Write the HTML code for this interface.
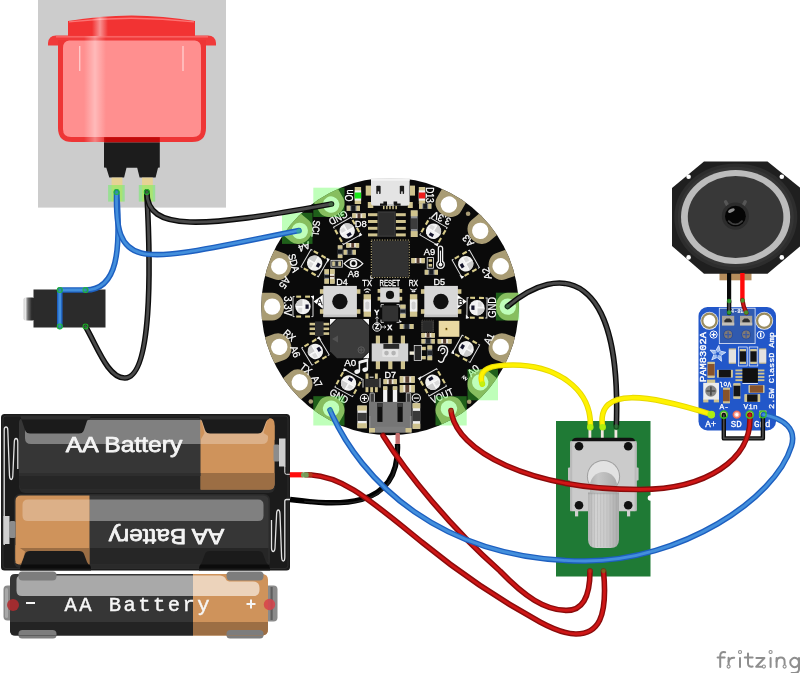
<!DOCTYPE html>
<html><head><meta charset="utf-8"><title>Fritzing diagram</title>
<style>
html,body{margin:0;padding:0;background:#ffffff;overflow:hidden}
svg{display:block;position:absolute;left:0;top:0}
</style></head><body>
<svg font-family="Liberation Sans, sans-serif" width="800" height="673" viewBox="0 0 800 673">
<rect x="0" y="0" width="800" height="673" fill="#ffffff"/>
<g opacity="0.999">
<defs>
<clipPath id="boardclip"><circle cx="390" cy="306.6" r="128.7"/></clipPath>
<linearGradient id="knobg" x1="0" x2="1" y1="0" y2="0">
<stop offset="0" stop-color="#b4b4b4"/><stop offset="0.25" stop-color="#d2d2d2"/><stop offset="0.6" stop-color="#cacaca"/><stop offset="1" stop-color="#ababab"/>
</linearGradient>
<linearGradient id="shaftg" x1="0" x2="1" y1="0" y2="0">
<stop offset="0" stop-color="#b2b2b2"/><stop offset="0.3" stop-color="#c6c6c6"/><stop offset="1" stop-color="#ababab"/>
</linearGradient>
<linearGradient id="jackg" x1="0" x2="1" y1="0" y2="0">
<stop offset="0" stop-color="#cfcfcf"/><stop offset="0.18" stop-color="#e8e8e8"/><stop offset="0.4" stop-color="#6e6e6e"/><stop offset="0.75" stop-color="#2b2b2b"/><stop offset="1" stop-color="#2b2b2b"/>
</linearGradient>
<linearGradient id="shine" x1="0" x2="1" y1="0" y2="0">
<stop offset="0" stop-color="#fff" stop-opacity="0"/><stop offset="0.5" stop-color="#fff" stop-opacity="0.55"/><stop offset="1" stop-color="#fff" stop-opacity="0"/>
</linearGradient>
<radialGradient id="capg" cx="0.4" cy="0.35" r="0.7">
<stop offset="0" stop-color="#2a2a2a"/><stop offset="1" stop-color="#000"/>
</radialGradient>
</defs>
<g id="button"><rect x="38" y="0" width="188" height="207.6" fill="#cccccc"/>
<path d="M68,36 L68,21 Q100,16 131.5,15.6 Q163,16 195,21 L195,36 Z" fill="#f23333"/>
<path d="M69,22.6 Q131,15.4 194,22.6 L194,21.2 Q131,14 69,21.2 Z" fill="#ff8a8a" opacity="0.75"/>
<path d="M48,45.6 L48,43 Q48.5,36 56,35.6 L208,35.6 Q215.5,36 216,43 L216,45.6 Z" fill="#f03a3a"/>
<rect x="56" y="36" width="152" height="1.6" fill="#ff7d7d" opacity="0.6"/>
<path d="M58,40 L206,40 L206,128 Q206,142 192,142 L72,142 Q58,142 58,128 Z" fill="#ee3535"/>
<path d="M69,40.5 L195,40.5 Q201,41 201,48 L201,129 Q201,137 193,137 L71,137 Q63,137 63,129 L63,48 Q63,41 69,40.5 Z" fill="#ff8f8f"/>
<rect x="104" y="137.2" width="55.8" height="5.4" fill="#c00b0b"/>
<rect x="79" y="46" width="1.4" height="25" fill="#ffd0d0" opacity="0.9"/>
<rect x="182.3" y="46" width="1.4" height="25" fill="#ffd0d0" opacity="0.9"/>
<rect x="92" y="17" width="16" height="19" fill="url(#shine)" opacity="0.85"/>
<rect x="84" y="36" width="22" height="106" fill="url(#shine)" opacity="0.7"/>
<path d="M104,142.5 L159.8,142.5 L159.8,167.4 L158,167.8 L155.6,177.6 L139.6,177.6 L137.2,167.8 L126.5,167.8 L124.1,177.6 L109.3,177.6 L106.3,167.8 L104,167.4 Z" fill="#1c1c1c"/>
<rect x="111.6" y="177.6" width="10.8" height="24" fill="#e6d294"/>
<rect x="142" y="177.6" width="10.8" height="24" fill="#e6d294"/>
<rect x="108.1" y="185" width="16.6" height="16.6" fill="#47ff39" opacity="0.38"/>
<rect x="138.8" y="185" width="16.4" height="16.6" fill="#47ff39" opacity="0.38"/></g>
<g id="jack"><rect x="23.5" y="297.5" width="11" height="23" rx="2" fill="url(#jackg)"/>
<rect x="33.5" y="289.5" width="72" height="38" fill="#2b2b2b"/></g>
<g id="batteries"><rect x="1" y="414" width="289" height="156.5" rx="3.5" fill="#1b1b1b"/>
<rect x="3" y="416" width="285" height="152.5" rx="3" fill="none" stroke="#2c2c2c" stroke-width="1"/>
<rect x="19" y="419" width="256" height="74" rx="6" fill="#2a2a2a"/>
<rect x="14" y="494" width="256" height="74" rx="6" fill="#2a2a2a"/>
<path d="M24,418 L200.5,418 L200.5,489.5 L24,489.5 Q19,489.5 19,484 L19,423 Q19,418 24,418 Z" fill="#363636"/>
<path d="M200.5,418 L269,418 Q274.5,418 274.5,424 L274.5,484 Q274.5,489.5 269,489.5 L200.5,489.5 Z" fill="#cf935b"/>
<path d="M19,473 L200.5,473 L200.5,489.5 L24,489.5 Q19,489.5 19,484 Z" fill="#262626"/>
<path d="M200.5,473 L274.5,473 L274.5,484 Q274.5,489.5 269,489.5 L200.5,489.5 Z" fill="#9c6e44"/>
<path d="M19,473 L200.5,473 L200.5,476 L19,476 Z" fill="#2e2e2e"/>
<path d="M28,420 L200.5,420 L200.5,444 L31,444 Q25,444 25,438 L25,423 Q25,420 28,420 Z" fill="#808080"/>
<path d="M200.5,420 L262,420 Q268,420 268,426 L268,438 Q268,444 262,444 L200.5,444 Z" fill="#dcb088"/>
<path d="M20,414 L91,414 L91,418 Q88,419 87,421 L84,430 Q83,433.5 79,433.5 L30,433.5 Q26,433.5 25,430 L22,421 Q21.5,419 20,418 Z" fill="#1b1b1b"/>
<path d="M20,415.5 L91,415.5 L89.5,419.5 L21.5,419.5 Z" fill="#2f2f2f"/>
<path d="M199,414 L270,414 L270,418 Q267,419 266,422 L263,430 Q262,433.5 258,433.5 L210,433.5 Q206,433.5 205,430 L202,421 Q201,419 199,418 Z" fill="#1b1b1b"/>
<path d="M199,415.5 L270,415.5 L268.5,419.5 L200.5,419.5 Z" fill="#2f2f2f"/>
<path d="M263.5,433 Q265,426 267,421.5 Q270,418.5 273,421 L274.5,426 L274.5,440 Z" fill="#cf935b"/>
<path d="M204.5,433 Q203,426 201.5,421 L200.5,421 L200.5,440 Z" fill="#cf935b"/>
<text x="65.8" y="451.8" font-size="22.4" fill="#f4f4f4" stroke="#f4f4f4" stroke-width="0.75" stroke-linejoin="round" textLength="116.6" lengthAdjust="spacingAndGlyphs" font-family="Liberation Sans, sans-serif">AA Battery</text>
<rect x="273.5" y="444.5" width="6" height="17" rx="1.5" fill="#8c8c8c"/>
<rect x="279" y="438.5" width="6.5" height="28" fill="#cfcfcf"/>
<path d="M284.8,466 L284.8,472.5 Q284.8,474.3 286.5,474.3 L290,474.3" fill="none" stroke="#e8e8e8" stroke-width="1"/>
<path d="M4.2,545 L4.2,430 Q4.2,427 6,427 Q7.8,427 7.8,430 L9.5,476 Q9.8,479.5 11.2,479.5 Q12.6,479.5 12.8,476 L14.3,442 Q14.5,438.5 16,438.5 Q17.8,438.5 17.8,442 L17.8,469" fill="none" stroke="#e2e2e2" stroke-width="1.3"/>
<path d="M89.5,495.5 L263,495.5 Q268.5,495.5 268.5,501 L268.5,559 Q268.5,564.5 263,564.5 L89.5,564.5 Z" fill="#363636"/>
<path d="M21,495.5 L89.5,495.5 L89.5,564.5 L21,564.5 Q15.5,564.5 15.5,559 L15.5,501 Q15.5,495.5 21,495.5 Z" fill="#cf935b"/>
<path d="M89.5,548 L268.5,548 L268.5,559 Q268.5,564.5 263,564.5 L89.5,564.5 Z" fill="#262626"/>
<path d="M15.5,548 L89.5,548 L89.5,564.5 L21,564.5 Q15.5,564.5 15.5,559 Z" fill="#9c6e44"/>
<path d="M89.5,499.5 L258,499.5 Q263.5,499.5 263.5,505 L263.5,515.5 Q263.5,521 258,521 L89.5,521 Z" fill="#808080"/>
<path d="M28,499.5 L89.5,499.5 L89.5,521 L28,521 Q22.5,521 22.5,515.5 L22.5,505 Q22.5,499.5 28,499.5 Z" fill="#dcb088"/>
<path d="M20,570.5 L91,570.5 L91,566 Q88,565 87,562 L84,554 Q83,551 79,551 L30,551 Q26,551 25,554 L22,562 Q21.5,565 20,566 Z" fill="#1b1b1b"/>
<path d="M199,570.5 L270,570.5 L270,566 Q267,565 266,562 L263,554 Q262,551 258,551 L210,551 Q206,551 205,554 L202,562 Q201,565 199,566 Z" fill="#1b1b1b"/>
<path d="M21.5,564.5 L89.5,564.5 L91,568.5 L20,568.5 Z" fill="#0c0c0c"/>
<path d="M200.5,564.5 L268.5,564.5 L270,568.5 L199,568.5 Z" fill="#0c0c0c"/>
<path d="M25,551.5 Q23.5,558 21.5,562.5 Q18.5,565.5 15.5,563 L15.5,545 Z" fill="#cf935b"/>
<g transform="rotate(180 166.5 536.5)"><text x="108.8" y="544" font-size="22.4" fill="#f4f4f4" stroke="#f4f4f4" stroke-width="0.75" stroke-linejoin="round" textLength="115.4" lengthAdjust="spacingAndGlyphs" font-family="Liberation Sans, sans-serif">AA Battery</text></g>
<rect x="9.5" y="521" width="6" height="17" rx="1.5" fill="#8c8c8c"/>
<rect x="3.5" y="516" width="6" height="28" fill="#cfcfcf"/>
<path d="M290,499.5 L286.5,499.5 Q284.8,499.5 284.8,501.5 L284.8,557 Q284.8,561 283.3,561 Q281.8,561 281.6,557 L280,514 Q279.8,510 278.3,510 Q276.8,510 276.6,514 L275,548 Q274.8,551.5 273.3,551.5 Q271.5,551.5 271.5,548 L271.5,520" fill="none" stroke="#e2e2e2" stroke-width="1.3"/>
<rect x="18.5" y="571.5" width="38" height="10" rx="3.5" fill="#7d7d7d"/>
<rect x="18.5" y="629" width="38" height="9.5" rx="3.5" fill="#7d7d7d"/>
<rect x="226.5" y="571.5" width="37" height="10" rx="3.5" fill="#7d7d7d"/>
<rect x="226.5" y="629" width="37" height="9.5" rx="3.5" fill="#7d7d7d"/>
<rect x="3.5" y="585.5" width="10" height="35" rx="4" fill="#8a8a8a"/>
<rect x="5" y="588" width="3" height="30" rx="1.5" fill="#a8a8a8"/>
<rect x="265" y="585.5" width="12.5" height="36" rx="4" fill="#8a8a8a"/>
<rect x="270.5" y="587" width="2.2" height="33" fill="#5e5e5e"/>
<path d="M15,574 L193,574 L193,635.5 L15,635.5 Q10,635.5 10,630 L10,579 Q10,574 15,574 Z" fill="#363636"/>
<path d="M193,574 L262,574 Q268,574 268,580 L268,629 Q268,635.5 262,635.5 L193,635.5 Z" fill="#cf935b"/>
<path d="M10,622 L193,622 L193,635.5 L15,635.5 Q10,635.5 10,630 Z" fill="#242424"/>
<path d="M193,622 L268,622 L268,629 Q268,635.5 262,635.5 L193,635.5 Z" fill="#9c6e44"/>
<path d="M21,575.5 L193,575.5 L193,596 L22,596 Q16.5,596 16.5,590.5 L16.5,580 Q16.5,575.5 21,575.5 Z" fill="#a9a9a9"/>
<path d="M193,575.5 L220,575.5 Q225,576 226,579.5 Q227,581.5 231,581.5 L253,581.5 Q259.5,581.5 259.5,588 L259.5,590 Q259.5,596 253,596 L193,596 Z" fill="#ecd3bb"/>
<path d="M18.5,574 L56.5,574 L56.5,576 Q56.5,580.5 52.5,580.5 L22.5,580.5 Q18.5,580.5 18.5,576 Z" fill="#7d7d7d"/>
<path d="M18.5,635.5 L56.5,635.5 L56.5,634 Q56.5,630 52.5,630 L22.5,630 Q18.5,630 18.5,634 Z" fill="#7d7d7d"/>
<path d="M226.5,574 L263.5,574 L263.5,576 Q263.5,580.5 259.5,580.5 L230.5,580.5 Q226.5,580.5 226.5,576 Z" fill="#7d7d7d"/>
<path d="M226.5,635.5 L263.5,635.5 L263.5,634 Q263.5,630 259.5,630 L230.5,630 Q226.5,630 226.5,634 Z" fill="#7d7d7d"/>
<circle cx="13" cy="605" r="6" fill="#b42a2e" opacity="0.85"/>
<circle cx="269.5" cy="604.5" r="5.7" fill="#d8424a" opacity="0.85"/>
<text x="64.5" y="610.5" font-size="20.5" fill="#f6f6f6" stroke="#f6f6f6" stroke-width="0.45" textLength="145" lengthAdjust="spacing" font-family="Liberation Mono, monospace">AA Battery</text>
<rect x="26" y="602" width="9" height="2" fill="#f6f6f6"/>
<rect x="246.5" y="603" width="9" height="2" fill="#f6f6f6"/>
<rect x="250" y="599.5" width="2" height="9" fill="#f6f6f6"/>
<rect x="289.8" y="472.2" width="13" height="5.2" fill="#ff0d0d"/></g>
<g id="board"><circle cx="390" cy="306.6" r="128.7" fill="#0a0a0a"/>
<g clip-path="url(#boardclip)">
<g transform="translate(390 306.6) rotate(-60)">
<path d="M117.8,-13.9 A11.9,13.9 0 0 0 117.8,13.9 L140,13.9 L140,-13.9 Z" fill="#a99c74"/>
<circle cx="117.8" cy="0" r="8.2" fill="#ffffff"/>
</g>
<g transform="translate(390 306.6) rotate(-40)">
<path d="M117.8,-13.9 A11.9,13.9 0 0 0 117.8,13.9 L140,13.9 L140,-13.9 Z" fill="#a99c74"/>
<circle cx="117.8" cy="0" r="8.2" fill="#ffffff"/>
</g>
<g transform="translate(390 306.6) rotate(-20)">
<path d="M117.8,-13.9 A11.9,13.9 0 0 0 117.8,13.9 L140,13.9 L140,-13.9 Z" fill="#a99c74"/>
<circle cx="117.8" cy="0" r="8.2" fill="#ffffff"/>
</g>
<g transform="translate(390 306.6) rotate(0)">
<path d="M117.8,-13.9 A11.9,13.9 0 0 0 117.8,13.9 L140,13.9 L140,-13.9 Z" fill="#a99c74"/>
<circle cx="117.8" cy="0" r="8.2" fill="#ffffff"/>
</g>
<g transform="translate(390 306.6) rotate(20)">
<path d="M117.8,-13.9 A11.9,13.9 0 0 0 117.8,13.9 L140,13.9 L140,-13.9 Z" fill="#a99c74"/>
<circle cx="117.8" cy="0" r="8.2" fill="#ffffff"/>
</g>
<g transform="translate(390 306.6) rotate(40)">
<path d="M117.8,-13.9 A11.9,13.9 0 0 0 117.8,13.9 L140,13.9 L140,-13.9 Z" fill="#a99c74"/>
<circle cx="117.8" cy="0" r="8.2" fill="#ffffff"/>
</g>
<g transform="translate(390 306.6) rotate(60)">
<path d="M117.8,-13.9 A11.9,13.9 0 0 0 117.8,13.9 L140,13.9 L140,-13.9 Z" fill="#a99c74"/>
<circle cx="117.8" cy="0" r="8.2" fill="#ffffff"/>
</g>
<g transform="translate(390 306.6) rotate(120)">
<path d="M117.8,-13.9 A11.9,13.9 0 0 0 117.8,13.9 L140,13.9 L140,-13.9 Z" fill="#a99c74"/>
<circle cx="117.8" cy="0" r="8.2" fill="#ffffff"/>
</g>
<g transform="translate(390 306.6) rotate(140)">
<path d="M117.8,-13.9 A11.9,13.9 0 0 0 117.8,13.9 L140,13.9 L140,-13.9 Z" fill="#a99c74"/>
<circle cx="117.8" cy="0" r="8.2" fill="#ffffff"/>
</g>
<g transform="translate(390 306.6) rotate(160)">
<path d="M117.8,-13.9 A11.9,13.9 0 0 0 117.8,13.9 L140,13.9 L140,-13.9 Z" fill="#a99c74"/>
<circle cx="117.8" cy="0" r="8.2" fill="#ffffff"/>
</g>
<g transform="translate(390 306.6) rotate(180)">
<path d="M117.8,-13.9 A11.9,13.9 0 0 0 117.8,13.9 L140,13.9 L140,-13.9 Z" fill="#a99c74"/>
<circle cx="117.8" cy="0" r="8.2" fill="#ffffff"/>
</g>
<g transform="translate(390 306.6) rotate(200)">
<path d="M117.8,-13.9 A11.9,13.9 0 0 0 117.8,13.9 L140,13.9 L140,-13.9 Z" fill="#a99c74"/>
<circle cx="117.8" cy="0" r="8.2" fill="#ffffff"/>
</g>
<g transform="translate(390 306.6) rotate(220)">
<path d="M117.8,-13.9 A11.9,13.9 0 0 0 117.8,13.9 L140,13.9 L140,-13.9 Z" fill="#a99c74"/>
<circle cx="117.8" cy="0" r="8.2" fill="#ffffff"/>
</g>
<g transform="translate(390 306.6) rotate(240)">
<path d="M117.8,-13.9 A11.9,13.9 0 0 0 117.8,13.9 L140,13.9 L140,-13.9 Z" fill="#a99c74"/>
<circle cx="117.8" cy="0" r="8.2" fill="#ffffff"/>
</g>
</g>
<circle cx="310.8" cy="401.5" r="2.3" fill="#a99c74"/>
<circle cx="469.2" cy="401.7" r="2.3" fill="#a99c74"/>
<circle cx="468.1" cy="213.8" r="2.3" fill="#a99c74"/>
<g transform="translate(390 306.6) rotate(-119.5) translate(87 0)"><rect x="-7" y="-11" width="4.9" height="2.1" fill="#d8cc8a"/><rect x="1.9" y="-11" width="4.9" height="2.1" fill="#d8cc8a"/><rect x="-7" y="8.9" width="4.9" height="2.1" fill="#d8cc8a"/><rect x="1.9" y="8.9" width="4.9" height="2.1" fill="#d8cc8a"/><path d="M8.4,-10 L10,-10 L10,10 L8.4,10" fill="none" stroke="#dedede" stroke-width="1"/><path d="M-8.4,-10 L-10,-10 L-10,10 L-8.4,10" fill="none" stroke="#dedede" stroke-width="1"/><path d="M-11,6.8 L-7.6,10.4 L-11,11.2 Z" fill="#f6f6f6"/><circle cx="0" cy="0" r="7.7" fill="#f1f1f1"/><path d="M0,0 L0,7.7 A7.7,7.7 0 0 0 7.7,0 Z" fill="#cdcdcd"/><path d="M0.6,-1.2 L0.6,-5.6 L4.6,-5.6 L4.6,-1.2 Z" fill="#dadada"/><path d="M-7,0 L7,0 M0,-7 L0,7" stroke="#fafafa" stroke-width="1.1"/><rect x="-5.7" y="-2.2" width="3.2" height="4.3" fill="#15152c"/></g>
<g transform="translate(390 306.6) rotate(-150) translate(87 0)"><rect x="-7" y="-11" width="4.9" height="2.1" fill="#d8cc8a"/><rect x="1.9" y="-11" width="4.9" height="2.1" fill="#d8cc8a"/><rect x="-7" y="8.9" width="4.9" height="2.1" fill="#d8cc8a"/><rect x="1.9" y="8.9" width="4.9" height="2.1" fill="#d8cc8a"/><path d="M8.4,-10 L10,-10 L10,10 L8.4,10" fill="none" stroke="#dedede" stroke-width="1"/><path d="M-8.4,-10 L-10,-10 L-10,10 L-8.4,10" fill="none" stroke="#dedede" stroke-width="1"/><path d="M-11,6.8 L-7.6,10.4 L-11,11.2 Z" fill="#f6f6f6"/><circle cx="0" cy="0" r="7.7" fill="#f1f1f1"/><path d="M0,0 L0,7.7 A7.7,7.7 0 0 0 7.7,0 Z" fill="#cdcdcd"/><path d="M0.6,-1.2 L0.6,-5.6 L4.6,-5.6 L4.6,-1.2 Z" fill="#dadada"/><path d="M-7,0 L7,0 M0,-7 L0,7" stroke="#fafafa" stroke-width="1.1"/><rect x="-5.7" y="-2.2" width="3.2" height="4.3" fill="#15152c"/></g>
<g transform="translate(390 306.6) rotate(180) translate(87 0)"><rect x="-7" y="-11" width="4.9" height="2.1" fill="#d8cc8a"/><rect x="1.9" y="-11" width="4.9" height="2.1" fill="#d8cc8a"/><rect x="-7" y="8.9" width="4.9" height="2.1" fill="#d8cc8a"/><rect x="1.9" y="8.9" width="4.9" height="2.1" fill="#d8cc8a"/><path d="M8.4,-10 L10,-10 L10,10 L8.4,10" fill="none" stroke="#dedede" stroke-width="1"/><path d="M-8.4,-10 L-10,-10 L-10,10 L-8.4,10" fill="none" stroke="#dedede" stroke-width="1"/><path d="M-11,6.8 L-7.6,10.4 L-11,11.2 Z" fill="#f6f6f6"/><circle cx="0" cy="0" r="7.7" fill="#f1f1f1"/><path d="M0,0 L0,7.7 A7.7,7.7 0 0 0 7.7,0 Z" fill="#cdcdcd"/><path d="M0.6,-1.2 L0.6,-5.6 L4.6,-5.6 L4.6,-1.2 Z" fill="#dadada"/><path d="M-7,0 L7,0 M0,-7 L0,7" stroke="#fafafa" stroke-width="1.1"/><rect x="-5.7" y="-2.2" width="3.2" height="4.3" fill="#15152c"/></g>
<g transform="translate(390 306.6) rotate(149) translate(87 0)"><rect x="-7" y="-11" width="4.9" height="2.1" fill="#d8cc8a"/><rect x="1.9" y="-11" width="4.9" height="2.1" fill="#d8cc8a"/><rect x="-7" y="8.9" width="4.9" height="2.1" fill="#d8cc8a"/><rect x="1.9" y="8.9" width="4.9" height="2.1" fill="#d8cc8a"/><path d="M8.4,-10 L10,-10 L10,10 L8.4,10" fill="none" stroke="#dedede" stroke-width="1"/><path d="M-8.4,-10 L-10,-10 L-10,10 L-8.4,10" fill="none" stroke="#dedede" stroke-width="1"/><path d="M-11,6.8 L-7.6,10.4 L-11,11.2 Z" fill="#f6f6f6"/><circle cx="0" cy="0" r="7.7" fill="#f1f1f1"/><path d="M0,0 L0,7.7 A7.7,7.7 0 0 0 7.7,0 Z" fill="#cdcdcd"/><path d="M0.6,-1.2 L0.6,-5.6 L4.6,-5.6 L4.6,-1.2 Z" fill="#dadada"/><path d="M-7,0 L7,0 M0,-7 L0,7" stroke="#fafafa" stroke-width="1.1"/><rect x="-5.7" y="-2.2" width="3.2" height="4.3" fill="#15152c"/></g>
<g transform="translate(390 306.6) rotate(118.5) translate(87 0)"><rect x="-7" y="-11" width="4.9" height="2.1" fill="#d8cc8a"/><rect x="1.9" y="-11" width="4.9" height="2.1" fill="#d8cc8a"/><rect x="-7" y="8.9" width="4.9" height="2.1" fill="#d8cc8a"/><rect x="1.9" y="8.9" width="4.9" height="2.1" fill="#d8cc8a"/><path d="M8.4,-10 L10,-10 L10,10 L8.4,10" fill="none" stroke="#dedede" stroke-width="1"/><path d="M-8.4,-10 L-10,-10 L-10,10 L-8.4,10" fill="none" stroke="#dedede" stroke-width="1"/><path d="M-11,6.8 L-7.6,10.4 L-11,11.2 Z" fill="#f6f6f6"/><circle cx="0" cy="0" r="7.7" fill="#f1f1f1"/><path d="M0,0 L0,7.7 A7.7,7.7 0 0 0 7.7,0 Z" fill="#cdcdcd"/><path d="M0.6,-1.2 L0.6,-5.6 L4.6,-5.6 L4.6,-1.2 Z" fill="#dadada"/><path d="M-7,0 L7,0 M0,-7 L0,7" stroke="#fafafa" stroke-width="1.1"/><rect x="-5.7" y="-2.2" width="3.2" height="4.3" fill="#15152c"/></g>
<g transform="translate(390 306.6) rotate(60.5) translate(87 0)"><rect x="-7" y="-11" width="4.9" height="2.1" fill="#d8cc8a"/><rect x="1.9" y="-11" width="4.9" height="2.1" fill="#d8cc8a"/><rect x="-7" y="8.9" width="4.9" height="2.1" fill="#d8cc8a"/><rect x="1.9" y="8.9" width="4.9" height="2.1" fill="#d8cc8a"/><path d="M8.4,-10 L10,-10 L10,10 L8.4,10" fill="none" stroke="#dedede" stroke-width="1"/><path d="M-8.4,-10 L-10,-10 L-10,10 L-8.4,10" fill="none" stroke="#dedede" stroke-width="1"/><path d="M-11,6.8 L-7.6,10.4 L-11,11.2 Z" fill="#f6f6f6"/><circle cx="0" cy="0" r="7.7" fill="#f1f1f1"/><path d="M0,0 L0,7.7 A7.7,7.7 0 0 0 7.7,0 Z" fill="#cdcdcd"/><path d="M0.6,-1.2 L0.6,-5.6 L4.6,-5.6 L4.6,-1.2 Z" fill="#dadada"/><path d="M-7,0 L7,0 M0,-7 L0,7" stroke="#fafafa" stroke-width="1.1"/><rect x="-5.7" y="-2.2" width="3.2" height="4.3" fill="#15152c"/></g>
<g transform="translate(390 306.6) rotate(29) translate(87 0)"><rect x="-7" y="-11" width="4.9" height="2.1" fill="#d8cc8a"/><rect x="1.9" y="-11" width="4.9" height="2.1" fill="#d8cc8a"/><rect x="-7" y="8.9" width="4.9" height="2.1" fill="#d8cc8a"/><rect x="1.9" y="8.9" width="4.9" height="2.1" fill="#d8cc8a"/><path d="M8.4,-10 L10,-10 L10,10 L8.4,10" fill="none" stroke="#dedede" stroke-width="1"/><path d="M-8.4,-10 L-10,-10 L-10,10 L-8.4,10" fill="none" stroke="#dedede" stroke-width="1"/><path d="M-11,6.8 L-7.6,10.4 L-11,11.2 Z" fill="#f6f6f6"/><circle cx="0" cy="0" r="7.7" fill="#f1f1f1"/><path d="M0,0 L0,7.7 A7.7,7.7 0 0 0 7.7,0 Z" fill="#cdcdcd"/><path d="M0.6,-1.2 L0.6,-5.6 L4.6,-5.6 L4.6,-1.2 Z" fill="#dadada"/><path d="M-7,0 L7,0 M0,-7 L0,7" stroke="#fafafa" stroke-width="1.1"/><rect x="-5.7" y="-2.2" width="3.2" height="4.3" fill="#15152c"/></g>
<g transform="translate(390 306.6) rotate(0.8) translate(87 0)"><rect x="-7" y="-11" width="4.9" height="2.1" fill="#d8cc8a"/><rect x="1.9" y="-11" width="4.9" height="2.1" fill="#d8cc8a"/><rect x="-7" y="8.9" width="4.9" height="2.1" fill="#d8cc8a"/><rect x="1.9" y="8.9" width="4.9" height="2.1" fill="#d8cc8a"/><path d="M8.4,-10 L10,-10 L10,10 L8.4,10" fill="none" stroke="#dedede" stroke-width="1"/><path d="M-8.4,-10 L-10,-10 L-10,10 L-8.4,10" fill="none" stroke="#dedede" stroke-width="1"/><path d="M-11,6.8 L-7.6,10.4 L-11,11.2 Z" fill="#f6f6f6"/><circle cx="0" cy="0" r="7.7" fill="#f1f1f1"/><path d="M0,0 L0,7.7 A7.7,7.7 0 0 0 7.7,0 Z" fill="#cdcdcd"/><path d="M0.6,-1.2 L0.6,-5.6 L4.6,-5.6 L4.6,-1.2 Z" fill="#dadada"/><path d="M-7,0 L7,0 M0,-7 L0,7" stroke="#fafafa" stroke-width="1.1"/><rect x="-5.7" y="-2.2" width="3.2" height="4.3" fill="#15152c"/></g>
<g transform="translate(390 306.6) rotate(-29.5) translate(87 0)"><rect x="-7" y="-11" width="4.9" height="2.1" fill="#d8cc8a"/><rect x="1.9" y="-11" width="4.9" height="2.1" fill="#d8cc8a"/><rect x="-7" y="8.9" width="4.9" height="2.1" fill="#d8cc8a"/><rect x="1.9" y="8.9" width="4.9" height="2.1" fill="#d8cc8a"/><path d="M8.4,-10 L10,-10 L10,10 L8.4,10" fill="none" stroke="#dedede" stroke-width="1"/><path d="M-8.4,-10 L-10,-10 L-10,10 L-8.4,10" fill="none" stroke="#dedede" stroke-width="1"/><path d="M-11,6.8 L-7.6,10.4 L-11,11.2 Z" fill="#f6f6f6"/><circle cx="0" cy="0" r="7.7" fill="#f1f1f1"/><path d="M0,0 L0,7.7 A7.7,7.7 0 0 0 7.7,0 Z" fill="#cdcdcd"/><path d="M0.6,-1.2 L0.6,-5.6 L4.6,-5.6 L4.6,-1.2 Z" fill="#dadada"/><path d="M-7,0 L7,0 M0,-7 L0,7" stroke="#fafafa" stroke-width="1.1"/><rect x="-5.7" y="-2.2" width="3.2" height="4.3" fill="#15152c"/></g>
<g transform="translate(390 306.6) rotate(-60) translate(87 0)"><rect x="-7" y="-11" width="4.9" height="2.1" fill="#d8cc8a"/><rect x="1.9" y="-11" width="4.9" height="2.1" fill="#d8cc8a"/><rect x="-7" y="8.9" width="4.9" height="2.1" fill="#d8cc8a"/><rect x="1.9" y="8.9" width="4.9" height="2.1" fill="#d8cc8a"/><path d="M8.4,-10 L10,-10 L10,10 L8.4,10" fill="none" stroke="#dedede" stroke-width="1"/><path d="M-8.4,-10 L-10,-10 L-10,10 L-8.4,10" fill="none" stroke="#dedede" stroke-width="1"/><path d="M-11,6.8 L-7.6,10.4 L-11,11.2 Z" fill="#f6f6f6"/><circle cx="0" cy="0" r="7.7" fill="#f1f1f1"/><path d="M0,0 L0,7.7 A7.7,7.7 0 0 0 7.7,0 Z" fill="#cdcdcd"/><path d="M0.6,-1.2 L0.6,-5.6 L4.6,-5.6 L4.6,-1.2 Z" fill="#dadada"/><path d="M-7,0 L7,0 M0,-7 L0,7" stroke="#fafafa" stroke-width="1.1"/><rect x="-5.7" y="-2.2" width="3.2" height="4.3" fill="#15152c"/></g></g>
<g id="boardparts"><rect x="365.7" y="185.6" width="5.5" height="10" fill="#cfc38e"/>
<rect x="410" y="185.6" width="5" height="10" fill="#cfc38e"/>
<rect x="367.8" y="202" width="5.5" height="6" fill="#cfc38e"/>
<rect x="407.8" y="202" width="5" height="6" fill="#cfc38e"/>
<rect x="383" y="204" width="1.5" height="5.2" fill="#cfc38e"/>
<rect x="386.1" y="204" width="1.5" height="5.2" fill="#cfc38e"/>
<rect x="389.2" y="204" width="1.5" height="5.2" fill="#cfc38e"/>
<rect x="392.3" y="204" width="1.5" height="5.2" fill="#cfc38e"/>
<rect x="395.4" y="204" width="1.5" height="5.2" fill="#cfc38e"/>
<path d="M371,178.2 L409.6,178.2 L409.6,203 Q409.6,205.8 406.6,205.8 L374,205.8 Q371,205.8 371,203 Z" fill="#e4e4e4"/>
<rect x="371" y="178.2" width="38.6" height="2.6" fill="#f2f2f2"/>
<rect x="376.3" y="185.8" width="4.3" height="8.2" rx="0.8" fill="#1a1a1a"/>
<rect x="377.7" y="191.4" width="1.5" height="2.6" fill="#e4e4e4"/>
<rect x="399.8" y="185.8" width="4.3" height="8.2" rx="0.8" fill="#1a1a1a"/>
<rect x="401.2" y="191.4" width="1.5" height="2.6" fill="#e4e4e4"/>
<path d="M380,205.8 L380,203.6 L383.4,203.6 L383.4,201.4 L387,201.4 L387,203.6 L387,205.8 Z" fill="#141414"/>
<path d="M400.6,205.8 L400.6,203.6 L397.2,203.6 L397.2,201.4 L393.6,201.4 L393.6,203.6 L393.6,205.8 Z" fill="#141414"/>
<rect x="387" y="204.2" width="6.6" height="1.6" fill="#b9b9b9"/>
<rect x="354.7" y="187" width="6.4" height="17" fill="#cfc38e"/>
<rect x="354.7" y="190.4" width="6.4" height="10.2" fill="#f0f0f0"/>
<rect x="354.7" y="192.5" width="6.4" height="6" fill="#19e619"/>
<rect x="418.8" y="187" width="6.4" height="17" fill="#cfc38e"/>
<rect x="418.8" y="190.4" width="6.4" height="10.2" fill="#f0f0f0"/>
<rect x="418.8" y="192.5" width="6.4" height="6" fill="#ee1c1c"/>
<text transform="translate(349.4 195.5) rotate(-90)" text-anchor="middle" font-size="10.4" fill="#ffffff" stroke="#ffffff" stroke-width="0.28" font-weight="normal" textLength="12" lengthAdjust="spacingAndGlyphs" dy="3.6">On</text>
<text transform="translate(429.8 194.9) rotate(90)" text-anchor="middle" font-size="10" fill="#ffffff" stroke="#ffffff" stroke-width="0.28" font-weight="normal" textLength="15.5" lengthAdjust="spacingAndGlyphs" dy="3.5">D13</text>
<rect x="346.7" y="205.7" width="13.3" height="5.2" fill="#8c8f94"/><rect x="346.7" y="205.7" width="3.458" height="5.2" fill="#cfc38e"/><rect x="356.542" y="205.7" width="3.458" height="5.2" fill="#cfc38e"/><rect x="351.195" y="205.7" width="4.3092" height="5.2" fill="#15181d"/>
<rect x="352.3" y="213.3" width="13.4" height="4.8" fill="#ece8dc"/><rect x="352.3" y="213.3" width="3.484" height="4.8" fill="#cfc38e"/><rect x="362.216" y="213.3" width="3.484" height="4.8" fill="#cfc38e"/><rect x="357.526" y="213.3" width="2.948" height="4.8" fill="#5a4034"/>
<rect x="419" y="203.6" width="12.4" height="5.2" fill="#8c8f94"/><rect x="419" y="203.6" width="3.224" height="5.2" fill="#cfc38e"/><rect x="428.176" y="203.6" width="3.224" height="5.2" fill="#cfc38e"/><rect x="423.191" y="203.6" width="4.0176" height="5.2" fill="#15181d"/>
<rect x="368" y="213.2" width="9.8" height="3" fill="#cfc38e"/>
<rect x="395.6" y="213.2" width="10.2" height="3" fill="#cfc38e"/>
<rect x="368" y="220" width="9.8" height="3" fill="#cfc38e"/>
<rect x="395.6" y="220" width="10.2" height="3" fill="#cfc38e"/>
<rect x="368" y="226.8" width="9.8" height="3" fill="#cfc38e"/>
<rect x="395.6" y="226.8" width="10.2" height="3" fill="#cfc38e"/>
<rect x="368" y="233.4" width="9.8" height="3" fill="#cfc38e"/>
<rect x="395.6" y="233.4" width="10.2" height="3" fill="#cfc38e"/>
<rect x="377.5" y="211.2" width="18.3" height="25.8" fill="#2d2d2d"/>
<rect x="378.6" y="212.3" width="16.1" height="23.6" fill="none" stroke="#3b3b3b" stroke-width="0.8"/>
<rect x="410.8" y="210.4" width="6.8" height="26.6" fill="#8c8f94"/><rect x="410.8" y="210.4" width="6.8" height="5.852" fill="#cfc38e"/><rect x="410.8" y="231.148" width="6.8" height="5.852" fill="#cfc38e"/><rect x="410.8" y="218.327" width="6.8" height="10.7464" fill="#3c3c3c"/>
<rect x="371.4" y="240.2" width="37.8" height="37.2" fill="none" stroke="#b5a878" stroke-width="1.3" stroke-dasharray="1.1 1.5"/>
<rect x="372" y="240.8" width="36.6" height="36" fill="#323232"/>
<path d="M370.6,275.6 L370.6,278.4 L373.4,278.4" fill="none" stroke="#f2f2f2" stroke-width="0.8"/>
<text transform="translate(429.4 254.8) rotate(0)" text-anchor="middle" font-size="9.6" fill="#ffffff" stroke="#ffffff" stroke-width="0.28" font-weight="normal" textLength="11.5" lengthAdjust="spacingAndGlyphs" >A9</text>
<path d="M438.4,261.4 L438.4,248.2 A2.1,2.1 0 0 1 442.6,248.2 L442.6,261.4 A3.8,3.8 0 1 1 438.4,261.4 Z" fill="none" stroke="#f2f2f2" stroke-width="1.3"/>
<path d="M440.5,250.6 L440.5,264" stroke="#f2f2f2" stroke-width="1.1"/>
<circle cx="440.5" cy="264.6" r="1.9" fill="#f2f2f2"/>
<rect x="427.2" y="257.6" width="6.3" height="10.6" fill="none" stroke="#f2f2f2" stroke-width="0.8"/>
<rect x="428.6" y="259.2" width="3.5" height="2.6" fill="#cfc38e"/><rect x="428.6" y="264" width="3.5" height="2.6" fill="#cfc38e"/>
<rect x="411.4" y="258" width="13.3" height="5.2" fill="#ece8dc"/><rect x="411.4" y="258" width="3.458" height="5.2" fill="#cfc38e"/><rect x="421.242" y="258" width="3.458" height="5.2" fill="#cfc38e"/><rect x="416.587" y="258" width="2.926" height="5.2" fill="#5a4034"/>
<rect x="424.7" y="269.8" width="13.3" height="4.9" fill="#8c8f94"/><rect x="424.7" y="269.8" width="3.458" height="4.9" fill="#cfc38e"/><rect x="434.542" y="269.8" width="3.458" height="4.9" fill="#cfc38e"/><rect x="429.195" y="269.8" width="4.3092" height="4.9" fill="#15181d"/>
<path d="M344.2,263.6 Q353.4,253.6 362.8,263.6 Q353.4,273.6 344.2,263.6 Z" fill="none" stroke="#f2f2f2" stroke-width="1.3"/>
<circle cx="353.5" cy="263.4" r="3" fill="none" stroke="#f2f2f2" stroke-width="1.7"/>
<text transform="translate(353.5 276.7) rotate(0)" text-anchor="middle" font-size="9.6" fill="#ffffff" stroke="#ffffff" stroke-width="0.28" font-weight="normal" textLength="11.5" lengthAdjust="spacingAndGlyphs" >A8</text>
<rect x="331" y="260.3" width="11.3" height="6.8" fill="none" stroke="#f2f2f2" stroke-width="0.8"/>
<rect x="332.3" y="261.5" width="8.7" height="4.4" fill="#8c8f94"/><rect x="332.3" y="261.5" width="2.436" height="4.4" fill="#cfc38e"/><rect x="338.564" y="261.5" width="2.436" height="4.4" fill="#cfc38e"/><rect x="335.415" y="261.5" width="2.4708" height="4.4" fill="#22262c"/>
<rect x="346.3" y="243" width="12.8" height="4.6" fill="#ece8dc"/><rect x="346.3" y="243" width="3.328" height="4.6" fill="#cfc38e"/><rect x="355.772" y="243" width="3.328" height="4.6" fill="#cfc38e"/><rect x="351.292" y="243" width="2.816" height="4.6" fill="#5a4034"/>
<rect x="337.8" y="245.3" width="4.6" height="12.8" fill="#8c8f94"/><rect x="337.8" y="245.3" width="4.6" height="3.328" fill="#cfc38e"/><rect x="337.8" y="254.772" width="4.6" height="3.328" fill="#cfc38e"/><rect x="337.8" y="249.626" width="4.6" height="4.1472" fill="#15181d"/>
<rect x="343.6" y="249.8" width="12.3" height="4.9" fill="#8c8f94"/><rect x="343.6" y="249.8" width="3.198" height="4.9" fill="#cfc38e"/><rect x="352.702" y="249.8" width="3.198" height="4.9" fill="#cfc38e"/><rect x="347.757" y="249.8" width="3.9852" height="4.9" fill="#22262c"/>
<rect x="324.4" y="269.2" width="4.6" height="14.5" fill="#8c8f94"/><rect x="324.4" y="269.2" width="4.6" height="4.785" fill="#cfc38e"/><rect x="324.4" y="278.915" width="4.6" height="4.785" fill="#cfc38e"/><rect x="324.4" y="275.116" width="4.6" height="2.668" fill="#15181d"/>
<rect x="330" y="269.2" width="4.6" height="14.5" fill="#ece8dc"/><rect x="330" y="269.2" width="4.6" height="4.785" fill="#cfc38e"/><rect x="330" y="278.915" width="4.6" height="4.785" fill="#cfc38e"/><rect x="330" y="275.87" width="4.6" height="1.16" fill="#5a4034"/>
<text transform="translate(360.8 226.9) rotate(0)" text-anchor="middle" font-size="9.3" fill="#ffffff" stroke="#ffffff" stroke-width="0.28" font-weight="normal" textLength="12" lengthAdjust="spacingAndGlyphs" >D8</text>
<rect x="319.9" y="289.2" width="40.5" height="4.6" fill="#cfc38e"/>
<rect x="319.9" y="309.2" width="40.5" height="4.6" fill="#cfc38e"/>
<rect x="323.3" y="285.9" width="33.6" height="31.2" fill="#d7d7d7"/>
<rect x="323.3" y="314.6" width="33.6" height="2.5" fill="#c4c4c4"/>
<circle cx="339.9" cy="301.5" r="7.7" fill="#111111"/>
<text transform="translate(342 285.2) rotate(0)" text-anchor="middle" font-size="9.3" fill="#ffffff" stroke="#ffffff" stroke-width="0.28" font-weight="normal" textLength="11.5" lengthAdjust="spacingAndGlyphs" >D4</text>
<rect x="420.9" y="289.2" width="40.5" height="4.6" fill="#cfc38e"/>
<rect x="420.9" y="309.2" width="40.5" height="4.6" fill="#cfc38e"/>
<rect x="424.3" y="285.9" width="33.6" height="31.2" fill="#d7d7d7"/>
<rect x="424.3" y="314.6" width="33.6" height="2.5" fill="#c4c4c4"/>
<circle cx="440.9" cy="301.5" r="7.7" fill="#111111"/>
<text transform="translate(439.2 285.2) rotate(0)" text-anchor="middle" font-size="9.3" fill="#ffffff" stroke="#ffffff" stroke-width="0.28" font-weight="normal" textLength="11.5" lengthAdjust="spacingAndGlyphs" >D5</text>
<path d="M322.9,294.7 L322.9,308.8 L313.6,301.6 Z" fill="#ffffff"/>
<text transform="translate(319.6 304.8) rotate(0)" text-anchor="middle" font-size="8.6" fill="#111" stroke="#111" stroke-width="0.28" font-weight="normal" >A</text>
<path d="M457.4,294.7 L457.4,308.8 L466.7,301.6 Z" fill="#ffffff"/>
<text transform="translate(460.6 305) rotate(0)" text-anchor="middle" font-size="8.6" fill="#111" stroke="#111" stroke-width="0.28" font-weight="normal" >B</text>
<rect x="363.6" y="294.2" width="7.4" height="22.6" fill="#cfc38e"/>
<rect x="363.6" y="299.4" width="7.4" height="12.2" fill="#f0f0f0"/>
<rect x="365.3" y="301.4" width="4" height="8.2" rx="1.8" fill="#d0d0d0"/>
<text transform="translate(367.1 286) rotate(0)" text-anchor="middle" font-size="8.2" fill="#ffffff" stroke="#ffffff" stroke-width="0.28" font-weight="normal" textLength="9.5" lengthAdjust="spacingAndGlyphs" >TX</text>
<rect x="409.9" y="294.2" width="7.4" height="22.6" fill="#cfc38e"/>
<rect x="409.9" y="299.4" width="7.4" height="12.2" fill="#f0f0f0"/>
<rect x="411.6" y="301.4" width="4" height="8.2" rx="1.8" fill="#d0d0d0"/>
<text transform="translate(413.4 286) rotate(0)" text-anchor="middle" font-size="8.2" fill="#ffffff" stroke="#ffffff" stroke-width="0.28" font-weight="normal" textLength="9.5" lengthAdjust="spacingAndGlyphs" >RX</text>
<path d="M363.9,290.4 Q367.2,287.4 370.5,290.4 M365.4,292.4 Q367.2,290.8 369,292.4" fill="none" stroke="#f2f2f2" stroke-width="1.1"/>
<path d="M410.2,288.6 Q413.5,291.6 416.8,288.6 M411.7,291 Q413.5,292.6 415.3,291" fill="none" stroke="#f2f2f2" stroke-width="1.1"/>
<text transform="translate(389.7 286) rotate(0)" text-anchor="middle" font-size="8.2" fill="#ffffff" stroke="#ffffff" stroke-width="0.28" font-weight="normal" textLength="20.5" lengthAdjust="spacingAndGlyphs" >RESET</text>
<rect x="377.6" y="289" width="24.6" height="3.8" fill="#cfc38e"/>
<rect x="377.6" y="296.8" width="24.6" height="3.8" fill="#cfc38e"/>
<rect x="380.2" y="287.4" width="19.4" height="15" fill="#d7d7d7"/>
<circle cx="390" cy="294.9" r="4.1" fill="#111111"/>
<rect x="382.2" y="305.6" width="16" height="15.8" fill="#323232"/>
<path d="M381,307.4 L381,304.6 L383.8,304.6 M396.6,304.6 L399.4,304.6 L399.4,307.4 M399.4,319.6 L399.4,322.4 L396.6,322.4 M383.8,322.4 L381,322.4 L381,319.6" fill="none" stroke="#f2f2f2" stroke-width="0.8"/>
<circle cx="400.6" cy="321.6" r="0.9" fill="#f2f2f2"/>
<rect x="400.2" y="304.6" width="5.4" height="13.2" fill="#8c8f94"/><rect x="400.2" y="304.6" width="5.4" height="3.96" fill="#cfc38e"/><rect x="400.2" y="313.84" width="5.4" height="3.96" fill="#cfc38e"/><rect x="400.2" y="309.59" width="5.4" height="3.2208" fill="#22262c"/>
<circle cx="377" cy="327" r="4.2" fill="none" stroke="#f2f2f2" stroke-width="1"/>
<text transform="translate(377 329.4) rotate(0)" text-anchor="middle" font-size="6.6" fill="#ffffff" stroke="#ffffff" stroke-width="0.28" font-weight="bold" >Z</text>
<path d="M377,322.8 L377,317 M375.5,318.6 L377,316.6 L378.5,318.6 M381.2,327 L385.6,327 M384.2,325.6 L386,327 L384.2,328.4" fill="none" stroke="#f2f2f2" stroke-width="0.8"/>
<text transform="translate(376.9 315) rotate(0)" text-anchor="middle" font-size="7.6" fill="#ffffff" stroke="#ffffff" stroke-width="0.28" font-weight="bold" >Y</text>
<text transform="translate(389.9 329.8) rotate(0)" text-anchor="middle" font-size="7.6" fill="#ffffff" stroke="#ffffff" stroke-width="0.28" font-weight="bold" >X</text>
<rect x="399.8" y="324" width="13.8" height="5" fill="#8c8f94"/><rect x="399.8" y="324" width="3.588" height="5" fill="#cfc38e"/><rect x="410.012" y="324" width="3.588" height="5" fill="#cfc38e"/><rect x="404.464" y="324" width="4.4712" height="5" fill="#22262c"/>
<path d="M363,319 L369,319 L369,325 Z M363,358.2 L369,358.2 L369,352.2 Z M336,319 L330,319 L330,325 Z" fill="#f4f4f4"/>
<path d="M337,319 L362,319 L369,326 L369,351.2 L362,358.2 L337,358.2 L330,351.2 L330,326 Z" fill="#3b3b3b"/>
<path d="M332,339 L338,335.6 L338,342.4 Z" fill="#525252"/>
<circle cx="361.2" cy="350" r="3.2" fill="none" stroke="#5e5e5e" stroke-width="1"/><path d="M358.8,350 L363.6,350 M361.2,347.6 L361.2,352.4" stroke="#5e5e5e" stroke-width="0.9"/>
<rect x="309.6" y="322.8" width="19.6" height="2.6" fill="#cfc38e"/>
<rect x="309.6" y="327.5" width="19.6" height="2.6" fill="#cfc38e"/>
<rect x="309.6" y="332.3" width="19.6" height="2.6" fill="#cfc38e"/>
<rect x="315" y="321.4" width="8.6" height="14.6" fill="#2f2f2f"/>
<rect x="375.8" y="335.6" width="4.2" height="33.6" fill="#cfc38e"/>
<rect x="388.2" y="335.6" width="4.2" height="33.6" fill="#cfc38e"/>
<rect x="400.8" y="335.6" width="4.2" height="33.6" fill="#cfc38e"/>
<rect x="371.7" y="343.4" width="36.5" height="18" fill="#d2d2d2"/>
<rect x="383.4" y="344" width="15.8" height="4.8" fill="#2a2a2a"/>
<rect x="382.2" y="349.2" width="16" height="7.8" rx="1.5" fill="#e4e4e4"/>
<circle cx="386.5" cy="353.1" r="2.3" fill="#b4b4b4"/><circle cx="393.6" cy="353.1" r="2.3" fill="#b4b4b4"/>
<text transform="translate(350.2 365.6) rotate(0)" text-anchor="middle" font-size="9.6" fill="#ffffff" stroke="#ffffff" stroke-width="0.28" font-weight="normal" textLength="12" lengthAdjust="spacingAndGlyphs" >A0</text>
<path d="M359.4,371 L359.4,361.6 L367.4,359.4 L367.4,369" fill="none" stroke="#f2f2f2" stroke-width="1.5"/>
<path d="M358.7,364 L368.1,361.4 L368.1,358.8 L358.7,361.4 Z" fill="#f2f2f2"/>
<ellipse cx="357.2" cy="371.6" rx="2.9" ry="2.2" transform="rotate(-15 357.2 371.6)" fill="#f2f2f2"/><ellipse cx="365.2" cy="369.6" rx="2.9" ry="2.2" transform="rotate(-15 365.2 369.6)" fill="#f2f2f2"/>
<rect x="421" y="346.8" width="4.8" height="3.4" fill="#cfc38e"/><rect x="421" y="356" width="4.8" height="3.4" fill="#cfc38e"/>
<rect x="409.6" y="351.4" width="5" height="3.4" fill="#f0ecd8"/>
<rect x="414.2" y="345.6" width="7.2" height="15" fill="#262626" stroke="#f2f2f2" stroke-width="0.7"/>
<rect x="427.4" y="345.4" width="4.8" height="14.8" fill="#8c8f94"/><rect x="427.4" y="345.4" width="4.8" height="3.996" fill="#cfc38e"/><rect x="427.4" y="356.204" width="4.8" height="3.996" fill="#cfc38e"/><rect x="427.4" y="350.55" width="4.8" height="4.4992" fill="#22262c"/>
<rect x="421.2" y="320.8" width="12.8" height="11" fill="#2f2f2f"/>
<rect x="422" y="320.2" width="11.2" height="12.2" fill="none" stroke="#56514a" stroke-width="0.8" stroke-dasharray="1.1 1.1"/>
<rect x="423.2" y="322.4" width="8.8" height="7.8" fill="#2a2a2a"/>
<rect x="421.4" y="333" width="13.4" height="4.6" fill="#ece8dc"/><rect x="421.4" y="333" width="3.484" height="4.6" fill="#cfc38e"/><rect x="431.316" y="333" width="3.484" height="4.6" fill="#cfc38e"/><rect x="426.626" y="333" width="2.948" height="4.6" fill="#5a4034"/>
<rect x="421.4" y="339" width="13.4" height="4.6" fill="#8c8f94"/><rect x="421.4" y="339" width="3.484" height="4.6" fill="#cfc38e"/><rect x="431.316" y="339" width="3.484" height="4.6" fill="#cfc38e"/><rect x="425.929" y="339" width="4.3416" height="4.6" fill="#22262c"/>
<rect x="438.7" y="320.8" width="20.7" height="16" fill="#ead9a2"/>
<circle cx="446.4" cy="328.9" r="1.5" fill="#d0b35a"/><circle cx="446.4" cy="328.9" r="0.8" fill="#3a2a10"/>
<rect x="437.7" y="339" width="13.8" height="4.6" fill="#ece8dc"/><rect x="437.7" y="339" width="3.588" height="4.6" fill="#cfc38e"/><rect x="447.912" y="339" width="3.588" height="4.6" fill="#cfc38e"/><rect x="443.082" y="339" width="3.036" height="4.6" fill="#5a4034"/>
<path d="M438.4,351 Q438,346 442.6,345.8 Q447.8,346 447.6,351.4 Q447.4,354.4 445.2,356.4 Q443.8,358 443.6,360 Q443.2,362.4 440.6,362.2 Q438.6,362 438.4,360" fill="none" stroke="#f2f2f2" stroke-width="1.45"/>
<path d="M440.6,351.4 Q440.8,348.4 443,348.4 Q445.2,348.6 445,351 Q444.8,352.8 443.2,353.4 Q442.4,353.8 441.4,353.2" fill="none" stroke="#f2f2f2" stroke-width="1.15"/>
<text transform="translate(390.2 378.2) rotate(0)" text-anchor="middle" font-size="9.3" fill="#ffffff" stroke="#ffffff" stroke-width="0.28" font-weight="normal" textLength="11.5" lengthAdjust="spacingAndGlyphs" >D7</text>
<rect x="383.5" y="379.2" width="13.4" height="4.9" fill="#ece8dc"/><rect x="383.5" y="379.2" width="3.484" height="4.9" fill="#cfc38e"/><rect x="393.416" y="379.2" width="3.484" height="4.9" fill="#cfc38e"/><rect x="388.726" y="379.2" width="2.948" height="4.9" fill="#5a4034"/>
<rect x="365.5" y="373.5" width="2.9" height="5.6" fill="#cfc38e"/>
<rect x="374.9" y="373.5" width="2.9" height="5.6" fill="#cfc38e"/>
<rect x="365.5" y="386.6" width="2.9" height="5.6" fill="#cfc38e"/>
<rect x="370.2" y="386.6" width="2.9" height="5.6" fill="#cfc38e"/>
<rect x="374.9" y="386.6" width="2.9" height="5.6" fill="#cfc38e"/>
<rect x="365" y="378.8" width="14" height="8.4" fill="#2e2e2e"/>
<path d="M369.6,377.2 L373.6,377.2" stroke="#f2f2f2" stroke-width="1"/>
<path d="M363,379 L363,387.6 M380,378 L380,387.6" stroke="#f2f2f2" stroke-width="0.9"/>
<rect x="399.8" y="376.2" width="14.9" height="6.6" fill="#ece8dc"/><rect x="399.8" y="376.2" width="3.576" height="6.6" fill="#cfc38e"/><rect x="411.124" y="376.2" width="3.576" height="6.6" fill="#cfc38e"/><rect x="405.313" y="376.2" width="3.874" height="6.6" fill="#5a4034"/>
<rect x="399.8" y="385" width="14.9" height="7.4" fill="#ece8dc"/><rect x="399.8" y="385" width="3.576" height="7.4" fill="#cfc38e"/><rect x="411.124" y="385" width="3.576" height="7.4" fill="#cfc38e"/><rect x="405.313" y="385" width="3.874" height="7.4" fill="#5a4034"/>
<rect x="383.1" y="386.4" width="4.2" height="16" fill="#f2f2f2"/><rect x="392.8" y="386.4" width="4.4" height="16" fill="#f2f2f2"/>
<rect x="383.1" y="386.4" width="4.2" height="3.6" fill="#cfc38e"/><rect x="392.8" y="386.4" width="4.4" height="3.6" fill="#cfc38e"/>
<rect x="370" y="393" width="4.4" height="9.4" rx="0.8" fill="#3c3c3c" stroke="#e8e8e8" stroke-width="0.7"/><rect x="406.3" y="393" width="4.4" height="9.4" rx="0.8" fill="#3c3c3c" stroke="#e8e8e8" stroke-width="0.7"/>
<rect x="369" y="401.9" width="42.5" height="30.6" fill="#767676"/>
<rect x="369" y="416" width="1.6" height="16.5" fill="#8a8a8a"/><rect x="409.9" y="416" width="1.6" height="16.5" fill="#8a8a8a"/>
<rect x="377.3" y="403.1" width="5.2" height="18.8" fill="#101010"/><rect x="397.5" y="403.1" width="5.2" height="18.8" fill="#101010"/>
<rect x="377.3" y="403.1" width="5.2" height="3.8" fill="#3e3e3e"/><rect x="397.5" y="403.1" width="5.2" height="3.8" fill="#3e3e3e"/>
<rect x="375.2" y="426.6" width="30.2" height="5.9" fill="#7e7e7e"/>
<rect x="369" y="428" width="6" height="4.5" fill="#cfc38e"/><rect x="405.5" y="428" width="6" height="4.5" fill="#cfc38e"/>
<circle cx="364.4" cy="398.4" r="4.1" fill="none" stroke="#f2f2f2" stroke-width="1.05"/><path d="M361.8,398.4 L367,398.4 M364.4,395.8 L364.4,401" stroke="#f2f2f2" stroke-width="1.3"/>
<circle cx="416.3" cy="398.1" r="4.1" fill="none" stroke="#f2f2f2" stroke-width="1.05"/><path d="M413.7,398.1 L418.9,398.1" stroke="#f2f2f2" stroke-width="1.3"/>
<rect x="357.4" y="405.6" width="9.4" height="22.6" fill="#efefef"/><rect x="357.4" y="405.6" width="9.4" height="4.972" fill="#cfc38e"/><rect x="357.4" y="423.228" width="9.4" height="4.972" fill="#cfc38e"/><rect x="357.4" y="412.832" width="9.4" height="8.136" fill="#3a3a3a"/>
<rect x="412.6" y="403.2" width="7.6" height="25.6" fill="#efefef"/><rect x="412.6" y="403.2" width="7.6" height="5.12" fill="#cfc38e"/><rect x="412.6" y="423.68" width="7.6" height="5.12" fill="#cfc38e"/><rect x="412.6" y="410.88" width="7.6" height="10.24" fill="#3a3a3a"/>
<text transform="translate(338.2 217.7) rotate(152)" text-anchor="middle" font-size="10.2" fill="#ffffff" stroke="#ffffff" stroke-width="0.28" font-weight="normal" textLength="19.6" lengthAdjust="spacingAndGlyphs" dy="3.5">GND</text>
<text transform="translate(315.8 228.8) rotate(97)" text-anchor="middle" font-size="10.2" fill="#ffffff" stroke="#ffffff" stroke-width="0.28" font-weight="normal" textLength="16.8" lengthAdjust="spacingAndGlyphs" dy="3.5">SCL</text>
<text transform="translate(304.1 246.8) rotate(160)" text-anchor="middle" font-size="10.2" fill="#ffffff" stroke="#ffffff" stroke-width="0.28" font-weight="normal" textLength="11.8" lengthAdjust="spacingAndGlyphs" dy="3.5">A4</text>
<text transform="translate(293.8 262.9) rotate(75)" text-anchor="middle" font-size="10.2" fill="#ffffff" stroke="#ffffff" stroke-width="0.28" font-weight="normal" textLength="19" lengthAdjust="spacingAndGlyphs" dy="3.5">SDA</text>
<text transform="translate(284.7 282.7) rotate(125)" text-anchor="middle" font-size="10.2" fill="#ffffff" stroke="#ffffff" stroke-width="0.28" font-weight="normal" textLength="11.8" lengthAdjust="spacingAndGlyphs" dy="3.5">A5</text>
<text transform="translate(287.4 306.1) rotate(90)" text-anchor="middle" font-size="10.2" fill="#ffffff" stroke="#ffffff" stroke-width="0.28" font-weight="normal" textLength="19.6" lengthAdjust="spacingAndGlyphs" dy="3.5">3.3V</text>
<text transform="translate(289.4 335.5) rotate(40)" text-anchor="middle" font-size="10.2" fill="#ffffff" stroke="#ffffff" stroke-width="0.28" font-weight="normal" textLength="12.3" lengthAdjust="spacingAndGlyphs" dy="3.5">RX</text>
<text transform="translate(295.4 351.6) rotate(70)" text-anchor="middle" font-size="10.2" fill="#ffffff" stroke="#ffffff" stroke-width="0.28" font-weight="normal" textLength="11.8" lengthAdjust="spacingAndGlyphs" dy="3.5">A6</text>
<text transform="translate(306.1 368.8) rotate(38)" text-anchor="middle" font-size="10.2" fill="#ffffff" stroke="#ffffff" stroke-width="0.28" font-weight="normal" textLength="11.8" lengthAdjust="spacingAndGlyphs" dy="3.5">TX</text>
<text transform="translate(316.8 381.5) rotate(62)" text-anchor="middle" font-size="10.2" fill="#ffffff" stroke="#ffffff" stroke-width="0.28" font-weight="normal" textLength="11.8" lengthAdjust="spacingAndGlyphs" dy="3.5">A7</text>
<text transform="translate(338.9 396.2) rotate(29)" text-anchor="middle" font-size="10.2" fill="#ffffff" stroke="#ffffff" stroke-width="0.28" font-weight="normal" textLength="19.6" lengthAdjust="spacingAndGlyphs" dy="3.5">GND</text>
<text transform="translate(442 396.1) rotate(-24)" text-anchor="middle" font-size="10.2" fill="#ffffff" stroke="#ffffff" stroke-width="0.28" font-weight="normal" textLength="23.5" lengthAdjust="spacingAndGlyphs" dy="3.5">VOUT</text>
<text transform="translate(473.3 370.6) rotate(-42)" text-anchor="middle" font-size="10.2" fill="#ffffff" stroke="#ffffff" stroke-width="0.28" font-weight="normal" textLength="11.8" lengthAdjust="spacingAndGlyphs" dy="3.5">A0</text>
<path d="M461.6,377.8 L464.2,375.6 L463.4,379 L466,376.8 L465.2,380.4 L467.6,378.4" fill="none" stroke="#f2f2f2" stroke-width="1"/>
<text transform="translate(488.8 338.8) rotate(-63)" text-anchor="middle" font-size="10.2" fill="#ffffff" stroke="#ffffff" stroke-width="0.28" font-weight="normal" textLength="11.2" lengthAdjust="spacingAndGlyphs" dy="3.5">A1</text>
<text transform="translate(492.9 307.4) rotate(-90)" text-anchor="middle" font-size="10.2" fill="#ffffff" stroke="#ffffff" stroke-width="0.28" font-weight="normal" textLength="20.7" lengthAdjust="spacingAndGlyphs" dy="3.5">GND</text>
<text transform="translate(486.8 273.6) rotate(-107)" text-anchor="middle" font-size="10.2" fill="#ffffff" stroke="#ffffff" stroke-width="0.28" font-weight="normal" textLength="11.8" lengthAdjust="spacingAndGlyphs" dy="3.5">A2</text>
<text transform="translate(468.1 240.8) rotate(-131)" text-anchor="middle" font-size="10.2" fill="#ffffff" stroke="#ffffff" stroke-width="0.28" font-weight="normal" textLength="11.8" lengthAdjust="spacingAndGlyphs" dy="3.5">A3</text>
<text transform="translate(441.4 218.1) rotate(-156)" text-anchor="middle" font-size="10.2" fill="#ffffff" stroke="#ffffff" stroke-width="0.28" font-weight="normal" textLength="19.6" lengthAdjust="spacingAndGlyphs" dy="3.5">3.3V</text></g>
<g id="padov"><rect x="313.3" y="187.7" width="31.2" height="29.3" fill="#47ff39" opacity="0.35"/>
<rect x="282.0" y="212.8" width="30.5" height="31.1" fill="#47ff39" opacity="0.35"/>
<rect x="495.9" y="292.7" width="23.4" height="27.8" fill="#47ff39" opacity="0.35"/>
<rect x="467.5" y="369.2" width="30.5" height="31.1" fill="#47ff39" opacity="0.35"/>
<rect x="435.5" y="396.2" width="31.2" height="29.3" fill="#47ff39" opacity="0.35"/>
<rect x="313.3" y="396.2" width="31.2" height="29.3" fill="#47ff39" opacity="0.35"/></g>
<g id="pot"><rect x="556" y="421" width="94.5" height="155.5" fill="#1f7a35"/>
<circle cx="650.5" cy="498" r="2.8" fill="#ffffff"/>
<rect x="588.5" y="427" width="2.8" height="11" fill="#f1e6e0"/>
<rect x="600.9" y="427" width="2.8" height="11" fill="#f1e6e0"/>
<rect x="614.5" y="427" width="2.8" height="11" fill="#f1e6e0"/>
<rect x="568" y="467.5" width="70.6" height="13" rx="1" fill="#c2c2c2"/>
<rect x="575" y="510" width="3.2" height="6.4" fill="#d0d0d0"/><rect x="627" y="510" width="3.2" height="6.4" fill="#d0d0d0"/>
<path d="M577,437.8 L630,437.8 Q635.5,437.8 635.5,443 L635.5,445 L571.5,445 L571.5,443 Q571.5,437.8 577,437.8 Z" fill="#111111"/>
<rect x="570.2" y="441.2" width="66.4" height="70" rx="2" fill="#cbcbcb"/>
<rect x="570.2" y="441.2" width="2" height="70" fill="#bababa"/><rect x="634.6" y="441.2" width="2" height="70" fill="#bababa"/>
<circle cx="579" cy="446.2" r="4.3" fill="#111111"/>
<circle cx="628.2" cy="446.2" r="4.3" fill="#111111"/>
<circle cx="579" cy="505.2" r="4.3" fill="#111111"/>
<circle cx="628.2" cy="505.2" r="4.3" fill="#111111"/>
<circle cx="603.5" cy="476.5" r="16.6" fill="#9f9f9f"/>
<circle cx="603.5" cy="476.5" r="15.6" fill="#e2e2e2"/>
<path d="M590,497 L590,485.5 A13.5,13.5 0 0 1 617,485.5 L617,497 Z" fill="url(#shaftg)"/>
<path d="M588,492.5 L619,492.5 L619,539.5 Q619,548 610.5,548 L596.5,548 Q588,548 588,539.5 Z" fill="url(#knobg)"/>
<rect x="591.1" y="493" width="0.7" height="54" fill="#8e8e8e" opacity="0.3"/>
<rect x="594.2" y="493" width="0.7" height="54" fill="#8e8e8e" opacity="0.3"/>
<rect x="597.3" y="493" width="0.7" height="54" fill="#8e8e8e" opacity="0.3"/>
<rect x="600.4" y="493" width="0.7" height="54" fill="#8e8e8e" opacity="0.3"/>
<rect x="603.5" y="493" width="0.7" height="54" fill="#8e8e8e" opacity="0.3"/>
<rect x="606.6" y="493" width="0.7" height="54" fill="#8e8e8e" opacity="0.3"/>
<rect x="609.7" y="493" width="0.7" height="54" fill="#8e8e8e" opacity="0.3"/>
<rect x="612.8" y="493" width="0.7" height="54" fill="#8e8e8e" opacity="0.3"/>
<rect x="615.9" y="493" width="0.7" height="54" fill="#8e8e8e" opacity="0.3"/>
<path d="M588,492.5 L619,492.5 L619,494.2 L588,494.2 Z" fill="#9a9a9a" opacity="0.5"/></g>
<g id="speaker"><rect x="719.5" y="270" width="32" height="10.3" fill="#b68d5c"/>
<path d="M704,161.4 L767.5,161.4 L800.5,188 L800.5,246 L767.5,273.8 L704,273.8 L672,246 L672,188 Z" fill="#1f1f1f"/>
<ellipse cx="735.8" cy="217" rx="61.5" ry="53.5" fill="#2d2d2d"/>
<ellipse cx="735.8" cy="217" rx="58" ry="50.3" fill="#353535"/>
<ellipse cx="735.6" cy="217" rx="54.6" ry="47" fill="#bcbcbc"/>
<ellipse cx="735.6" cy="217" rx="47.8" ry="41" fill="#383838"/>
<path d="M725.6,201.8 L729.4,209 M745.2,201.8 L741.4,209" stroke="#565656" stroke-width="3.4" stroke-linecap="round"/>
<circle cx="735.4" cy="216.2" r="13.6" fill="#2c2c2c"/>
<circle cx="735.4" cy="216.2" r="10.4" fill="#050505"/>
<path d="M728.2,220.6 Q735.4,228 742.6,220.6" fill="none" stroke="#3e3e3e" stroke-width="1.6"/>
<ellipse cx="731.4" cy="210.6" rx="3.6" ry="1.7" transform="rotate(-28 731.4 210.6)" fill="#8c8c8c"/>
<circle cx="688.6" cy="176.8" r="2.3" fill="#ffffff"/>
<circle cx="781.8" cy="176.8" r="2.3" fill="#ffffff"/>
<circle cx="688.6" cy="257.4" r="2.3" fill="#ffffff"/>
<circle cx="781.8" cy="257.4" r="2.3" fill="#ffffff"/></g>
<g id="amp"><rect x="698.5" y="307" width="77.5" height="123.5" rx="9" fill="#2257c9"/>
<circle cx="709.4" cy="320.8" r="9" fill="#e6ecfa"/><circle cx="709.4" cy="320.8" r="8.2" fill="#9a8c5e"/><circle cx="709.4" cy="320.8" r="6" fill="#ffffff"/>
<circle cx="764.2" cy="320.8" r="9" fill="#e6ecfa"/><circle cx="764.2" cy="320.8" r="8.2" fill="#9a8c5e"/><circle cx="764.2" cy="320.8" r="6" fill="#ffffff"/>
<rect x="719.3" y="308.2" width="35.8" height="35.4" fill="#305aaf" stroke="#e8eefc" stroke-width="0.8"/>
<rect x="722" y="315.8" width="12.2" height="9.6" fill="#a8a39a"/>
<path d="M724.4,322.6 L724.4,320.4 L726.4,318.6 L729.8,318.6 L731.8,320.4 L731.8,322.6 Z" fill="#2e2e2e"/>
<rect x="722" y="322.6" width="12.2" height="2.8" fill="#c4c0b8"/>
<circle cx="728.1" cy="334.6" r="4.9" fill="#2a4a94"/>
<circle cx="728.1" cy="334.6" r="4" fill="#807a74"/>
<path d="M724.9,334.6 L731.3,334.6 M728.1,331.4 L728.1,337.8" stroke="#3a5aa4" stroke-width="1.3"/>
<rect x="740" y="315.8" width="12.2" height="9.6" fill="#a8a39a"/>
<path d="M742.4,322.6 L742.4,320.4 L744.4,318.6 L747.8,318.6 L749.8,320.4 L749.8,322.6 Z" fill="#2e2e2e"/>
<rect x="740" y="322.6" width="12.2" height="2.8" fill="#c4c0b8"/>
<circle cx="746.1" cy="334.6" r="4.9" fill="#2a4a94"/>
<circle cx="746.1" cy="334.6" r="4" fill="#807a74"/>
<path d="M742.9,334.6 L749.3,334.6 M746.1,331.4 L746.1,337.8" stroke="#3a5aa4" stroke-width="1.3"/>
<circle cx="713.6" cy="334.6" r="3.6" fill="none" stroke="#fff" stroke-width="1"/><path d="M711.4,334.6 L715.8,334.6 M713.6,332.4 L713.6,336.8" stroke="#fff" stroke-width="1.3"/>
<circle cx="760.7" cy="334.9" r="3.6" fill="none" stroke="#fff" stroke-width="1"/><path d="M760.7,332.5 L760.7,337.3" stroke="#fff" stroke-width="1.4"/>
<text x="737.3" y="313.2" font-size="5.5" fill="#fff" text-anchor="middle" font-weight="bold" font-family="Liberation Mono, monospace">4-8Ω</text>
<text transform="translate(705.7 357) rotate(-90)" text-anchor="middle" font-size="9.6" fill="#fff" stroke="#fff" stroke-width="0.4" textLength="50" lengthAdjust="spacingAndGlyphs" font-family="Liberation Mono, monospace">PAM8302A</text>
<text transform="translate(774.2 370.5) rotate(-90)" text-anchor="middle" font-size="7.8" fill="#fff" stroke="#fff" stroke-width="0.3" textLength="77" lengthAdjust="spacingAndGlyphs" font-family="Liberation Mono, monospace">2.5W ClassD Amp</text>
<g transform="translate(717.6 353.8)"><polygon points="1.17,-8.32 2.57,-2.66 8.27,-1.46 3.33,1.62 3.94,7.42 -0.51,3.66 -5.84,6.04 -3.64,0.64 -7.55,-3.68 -1.74,-3.27" fill="#9fbdf0" stroke="#dbe7fb" stroke-width="0.9" stroke-linejoin="round"/><circle r="1.5" fill="#2257c9"/>
<path d="M0,0 L2.57,-2.66" stroke="#2257c9" stroke-width="0.7"/>
<path d="M0,0 L3.33,1.62" stroke="#2257c9" stroke-width="0.7"/>
<path d="M0,0 L-0.51,3.66" stroke="#2257c9" stroke-width="0.7"/>
<path d="M0,0 L-3.64,0.64" stroke="#2257c9" stroke-width="0.7"/>
<path d="M0,0 L-1.74,-3.27" stroke="#2257c9" stroke-width="0.7"/>
</g>
<rect x="728.8" y="348.4" width="7.2" height="15.4" fill="#c8b98c"/><rect x="759.2" y="348.4" width="7" height="15.4" fill="#c8b98c"/><rect x="728.8" y="349.6" width="7.2" height="13" fill="#e4e2e0"/><rect x="759.2" y="349.6" width="7" height="13" fill="#e4e2e0"/>
<rect x="738.6" y="347" width="8.6" height="19" fill="none" stroke="#fff" stroke-width="0.7"/>
<rect x="739.8" y="349.2" width="6.2" height="14.6" fill="#ece8dc"/><rect x="739.8" y="349.2" width="6.2" height="2.044" fill="#cfc38e"/><rect x="739.8" y="361.756" width="6.2" height="2.044" fill="#cfc38e"/><rect x="739.8" y="351.244" width="6.2" height="10.512" fill="#141414"/>
<rect x="749.2" y="347" width="8.6" height="19" fill="none" stroke="#fff" stroke-width="0.7"/>
<rect x="750.4" y="349.2" width="6.2" height="14.6" fill="#ece8dc"/><rect x="750.4" y="349.2" width="6.2" height="2.044" fill="#cfc38e"/><rect x="750.4" y="361.756" width="6.2" height="2.044" fill="#cfc38e"/><rect x="750.4" y="351.244" width="6.2" height="10.512" fill="#141414"/>
<rect x="707.6" y="361.9" width="7" height="15.8" fill="#ece8dc"/><rect x="707.6" y="361.9" width="7" height="2.054" fill="#cfc38e"/><rect x="707.6" y="375.646" width="7" height="2.054" fill="#cfc38e"/><rect x="707.6" y="363.954" width="7" height="11.692" fill="#87532b"/>
<rect x="717.1" y="369.9" width="15.5" height="7.5" fill="#ece8dc"/><rect x="717.1" y="369.9" width="1.705" height="7.5" fill="#cfc38e"/><rect x="730.895" y="369.9" width="1.705" height="7.5" fill="#cfc38e"/><rect x="718.805" y="369.9" width="12.09" height="7.5" fill="#141414"/>
<rect x="735.4" y="369.5" width="29" height="1.8" fill="#cfc38e"/>
<rect x="735.4" y="372.7" width="29" height="1.8" fill="#cfc38e"/>
<rect x="735.4" y="376.1" width="29" height="1.8" fill="#cfc38e"/>
<rect x="735.4" y="379.3" width="29" height="1.8" fill="#cfc38e"/>
<rect x="742.4" y="383" width="15.5" height="0.9" fill="#e8eefc"/>
<rect x="742.4" y="368.2" width="15.5" height="14.6" fill="#101010"/>
<text transform="translate(725.4 382) rotate(180)" text-anchor="middle" font-size="7.6" fill="#fff" stroke="#fff" stroke-width="0.3" textLength="11.6" lengthAdjust="spacingAndGlyphs" font-family="Liberation Mono, monospace">Vol</text>
<rect x="707" y="379.6" width="8.2" height="4" fill="#cfc38e"/>
<rect x="703.2" y="398.6" width="5.2" height="3.8" fill="#cfc38e"/><rect x="713.8" y="398.6" width="5.2" height="3.8" fill="#cfc38e"/>
<rect x="703.2" y="382.8" width="15.8" height="16.8" fill="#ececec"/>
<circle cx="710.9" cy="391" r="5.7" fill="#858585"/><path d="M706.4,391 L715.4,391 M710.9,386.5 L710.9,395.5" stroke="#4a4a4a" stroke-width="1.7"/>
<rect x="723" y="387.8" width="6.8" height="15.4" fill="#ece8dc"/><rect x="723" y="387.8" width="6.8" height="1.848" fill="#cfc38e"/><rect x="723" y="401.352" width="6.8" height="1.848" fill="#cfc38e"/><rect x="723" y="389.648" width="6.8" height="11.704" fill="#87532b"/>
<rect x="733.5" y="383.4" width="6.8" height="15.2" fill="#ece8dc"/><rect x="733.5" y="383.4" width="6.8" height="2.28" fill="#cfc38e"/><rect x="733.5" y="396.32" width="6.8" height="2.28" fill="#cfc38e"/><rect x="733.5" y="385.68" width="6.8" height="10.64" fill="#141414"/>
<rect x="748.7" y="385.3" width="15.6" height="7.4" fill="#ece8dc"/><rect x="748.7" y="385.3" width="1.248" height="7.4" fill="#cfc38e"/><rect x="763.052" y="385.3" width="1.248" height="7.4" fill="#cfc38e"/><rect x="749.948" y="385.3" width="13.104" height="7.4" fill="#87532b"/>
<rect x="744.6" y="394.4" width="15.5" height="7.4" fill="#ece8dc"/><rect x="744.6" y="394.4" width="2.48" height="7.4" fill="#cfc38e"/><rect x="757.62" y="394.4" width="2.48" height="7.4" fill="#cfc38e"/><rect x="747.08" y="394.4" width="10.54" height="7.4" fill="#141414"/>
<circle cx="711.3" cy="414.6" r="3.6" fill="#c9bd8e"/>
<circle cx="711.3" cy="414.6" r="1.6" fill="#ffffff"/>
<text x="710.7" y="427.2" font-size="9.2" fill="#fff" stroke="#fff" stroke-width="0.3" text-anchor="middle" font-family="Liberation Mono, monospace">A+</text>
<circle cx="723.8" cy="414.6" r="3.6" fill="#c9bd8e"/>
<circle cx="723.8" cy="414.6" r="1.6" fill="#ffffff"/>
<text x="724.2" y="408.8" font-size="7.8" fill="#fff" stroke="#fff" stroke-width="0.25" text-anchor="middle" font-family="Liberation Mono, monospace">A-</text>
<circle cx="736.8" cy="414.6" r="4.2" fill="#ee6a55"/><circle cx="736.8" cy="414.6" r="2.8" fill="#f6b0a8"/>
<circle cx="736.8" cy="414.6" r="1.6" fill="#ffffff"/>
<text x="736.2" y="427.2" font-size="9.2" fill="#fff" stroke="#fff" stroke-width="0.3" text-anchor="middle" font-family="Liberation Mono, monospace">SD</text>
<circle cx="749.8" cy="414.6" r="3.6" fill="#c9bd8e"/>
<circle cx="749.8" cy="414.6" r="1.6" fill="#ffffff"/>
<text x="750.6" y="408.8" font-size="7.8" fill="#fff" stroke="#fff" stroke-width="0.25" text-anchor="middle" font-family="Liberation Mono, monospace">Vin</text>
<rect x="759.1" y="410.5" width="7.4" height="7.4" fill="#c9bd8e"/>
<circle cx="762.8" cy="414.6" r="1.6" fill="#ffffff"/>
<text x="762.2" y="427.2" font-size="9.2" fill="#fff" stroke="#fff" stroke-width="0.3" text-anchor="middle" font-family="Liberation Mono, monospace">Gnd</text></g>
<g id="logo"><g fill="none" stroke="#8e8e8e" stroke-width="2" stroke-linecap="round" stroke-linejoin="round">
<path d="M725.2,652.2 Q720.2,651.2 720.2,656 L720.2,667"/><path d="M717.6,657.6 L724.6,657.6"/>
<path d="M728.6,657.8 L728.6,664.6"/><path d="M728.6,661.5 Q729.4,657.6 734.2,657.8"/>
<path d="M740,658 L740,667"/>
<path d="M748,653.4 L748,663.6 Q748,667 752.6,666.6"/><path d="M744.8,657.6 L752.6,657.6"/>
<path d="M756.4,658 L764.4,658 L756.2,666.8 L761.6,666.8"/>
<path d="M770.6,658 L770.6,667"/>
<path d="M776.6,658 L776.6,667"/><path d="M776.6,661.4 Q777.2,657.6 780.8,657.6 Q784.6,657.6 784.6,661.6 L784.6,664.6"/>
<path d="M799,658 L799,669 Q799,673 794.6,673 L791.6,673"/><path d="M799,662.4 A4.4,4.6 0 1 0 799,662.6"/>
</g>
<circle cx="728.6" cy="666.6" r="1.55" fill="#ffffff" stroke="#8e8e8e" stroke-width="1.1"/>
<circle cx="740" cy="652" r="1.55" fill="#ffffff" stroke="#8e8e8e" stroke-width="1.1"/>
<circle cx="763.9" cy="666.6" r="1.55" fill="#ffffff" stroke="#8e8e8e" stroke-width="1.1"/>
<circle cx="770.6" cy="652" r="1.55" fill="#ffffff" stroke="#8e8e8e" stroke-width="1.1"/>
<circle cx="784.6" cy="666.6" r="1.55" fill="#ffffff" stroke="#8e8e8e" stroke-width="1.1"/></g>
<g id="wires"><rect x="727" y="273" width="4.2" height="30" fill="#0a0a0a"/>
<rect x="740.2" y="273" width="4.4" height="28" fill="#ff0a0a"/>
<path d="M729.1,301 L729.1,313" fill="none" stroke="#0c0c0c" stroke-width="4.4" stroke-linecap="round" stroke-linejoin="round"/><path d="M729.1,301 L729.1,313" fill="none" stroke="#4a4a4a" stroke-width="2" stroke-linecap="round" stroke-linejoin="round"/>
<path d="M742.4,300 Q743,306 746.4,313" fill="none" stroke="#8a0c0c" stroke-width="4.4" stroke-linecap="round" stroke-linejoin="round"/><path d="M742.4,300 Q743,306 746.4,313" fill="none" stroke="#cf1616" stroke-width="2" stroke-linecap="round" stroke-linejoin="round"/>
<circle cx="729.1" cy="301" r="2.2" fill="#2fae2f" opacity="0.8"/>
<circle cx="729.1" cy="312.5" r="2.2" fill="#2fae2f" opacity="0.8"/>
<circle cx="742.6" cy="300.5" r="2.2" fill="#2fae2f" opacity="0.8"/>
<circle cx="746.2" cy="312.5" r="2.2" fill="#2fae2f" opacity="0.8"/>
<rect x="395.5" y="433" width="4.4" height="13.5" rx="1" fill="#c56e6e"/>
<path d="M723.8,415 L723.8,438.4 L762.9,438.4 L762.9,415" fill="none" stroke="#0c0c0c" stroke-width="4.4" stroke-linecap="round" stroke-linejoin="round"/><path d="M723.8,415 L723.8,438.4 L762.9,438.4 L762.9,415" fill="none" stroke="#4a4a4a" stroke-width="1.6" stroke-linecap="round" stroke-linejoin="round"/>
<path d="M290,499.5 C335,505 400,512 397.5,444" fill="none" stroke="#000" stroke-width="5.4" stroke-linecap="butt"/>
<path d="M305,501.5 C345,505 399,510 397.5,446" fill="none" stroke="#1c1c1c" stroke-width="1.8" stroke-linecap="round"/>
<path d="M306,474.7 C342,474.7 370,500 423,543 C462,575 500,600 540,622 C553,629 565,634 576,634 C598,634 608,618 603.5,571" fill="none" stroke="#8a0c0c" stroke-width="5.6" stroke-linecap="round" stroke-linejoin="round"/><path d="M306,474.7 C342,474.7 370,500 423,543 C462,575 500,600 540,622 C553,629 565,634 576,634 C598,634 608,618 603.5,571" fill="none" stroke="#cf1616" stroke-width="2.8" stroke-linecap="round" stroke-linejoin="round"/>
<path d="M383,435.5 C407,474 452,529 500,571 C525,597 545,610 566,610.4 C582,610.8 590,598 590,571" fill="none" stroke="#8a0c0c" stroke-width="5.6" stroke-linecap="round" stroke-linejoin="round"/><path d="M383,435.5 C407,474 452,529 500,571 C525,597 545,610 566,610.4 C582,610.8 590,598 590,571" fill="none" stroke="#cf1616" stroke-width="2.8" stroke-linecap="round" stroke-linejoin="round"/>
<path d="M330,410 C360,480 440,561 585,561 C680,561 775,500 791.5,446 C796.5,429 785,419 763.5,414.6" fill="none" stroke="#1d5fc0" stroke-width="5.6" stroke-linecap="round" stroke-linejoin="round"/><path d="M330,410 C360,480 440,561 585,561 C680,561 775,500 791.5,446 C796.5,429 785,419 763.5,414.6" fill="none" stroke="#438fdc" stroke-width="2.8" stroke-linecap="round" stroke-linejoin="round"/>
<path d="M451,410.5 C456,452 530,489.5 640,489.5 C705,489.5 753,460 749.8,415" fill="none" stroke="#8a0c0c" stroke-width="5.6" stroke-linecap="round" stroke-linejoin="round"/><path d="M451,410.5 C456,452 530,489.5 640,489.5 C705,489.5 753,460 749.8,415" fill="none" stroke="#cf1616" stroke-width="2.8" stroke-linecap="round" stroke-linejoin="round"/>
<path d="M507.5,306.5 C560,262 622,270 616.3,427" fill="none" stroke="#0c0c0c" stroke-width="5.6" stroke-linecap="round" stroke-linejoin="round"/><path d="M507.5,306.5 C560,262 622,270 616.3,427" fill="none" stroke="#4a4a4a" stroke-width="2.8" stroke-linecap="round" stroke-linejoin="round"/>
<path d="M482.3,384 C477,368 492,365 513,365 C555,365 592,388 590.3,427" fill="none" stroke="#e6d800" stroke-width="5.6" stroke-linecap="round" stroke-linejoin="round"/><path d="M482.3,384 C477,368 492,365 513,365 C555,365 592,388 590.3,427" fill="none" stroke="#fff200" stroke-width="3.6" stroke-linecap="round" stroke-linejoin="round"/>
<path d="M602.6,427 C596,385 650,395 711.3,414.4" fill="none" stroke="#e6d800" stroke-width="5.6" stroke-linecap="round" stroke-linejoin="round"/><path d="M602.6,427 C596,385 650,395 711.3,414.4" fill="none" stroke="#fff200" stroke-width="3.6" stroke-linecap="round" stroke-linejoin="round"/>
<path d="M146.8,192 C151,270 152,377 125,378 C108,378.5 97,346 85.5,326.5" fill="none" stroke="#0c0c0c" stroke-width="5.6" stroke-linecap="round" stroke-linejoin="round"/><path d="M146.8,192 C151,270 152,377 125,378 C108,378.5 97,346 85.5,326.5" fill="none" stroke="#4a4a4a" stroke-width="2.8" stroke-linecap="round" stroke-linejoin="round"/>
<path d="M146.8,192 C147,232 200,228 331.5,204" fill="none" stroke="#0c0c0c" stroke-width="5.6" stroke-linecap="round" stroke-linejoin="round"/><path d="M146.8,192 C147,232 200,228 331.5,204" fill="none" stroke="#4a4a4a" stroke-width="2.8" stroke-linecap="round" stroke-linejoin="round"/>
<path d="M116.6,192 C121,250 118,290 85.5,290" fill="none" stroke="#1d5fc0" stroke-width="5.6" stroke-linecap="round" stroke-linejoin="round"/><path d="M116.6,192 C121,250 118,290 85.5,290" fill="none" stroke="#438fdc" stroke-width="2.8" stroke-linecap="round" stroke-linejoin="round"/>
<path d="M59.8,290 L85.5,290" fill="none" stroke="#1d5fc0" stroke-width="5.6" stroke-linecap="round" stroke-linejoin="round"/><path d="M59.8,290 L85.5,290" fill="none" stroke="#438fdc" stroke-width="2.8" stroke-linecap="round" stroke-linejoin="round"/>
<path d="M59.8,290 L59.8,326.5" fill="none" stroke="#1d5fc0" stroke-width="5.6" stroke-linecap="round" stroke-linejoin="round"/><path d="M59.8,290 L59.8,326.5" fill="none" stroke="#438fdc" stroke-width="2.8" stroke-linecap="round" stroke-linejoin="round"/>
<path d="M116.6,192 C114.5,275 140,262 299,230.5" fill="none" stroke="#1d5fc0" stroke-width="5.6" stroke-linecap="round" stroke-linejoin="round"/><path d="M116.6,192 C114.5,275 140,262 299,230.5" fill="none" stroke="#438fdc" stroke-width="2.8" stroke-linecap="round" stroke-linejoin="round"/>
<circle cx="116.6" cy="192" r="2.5" fill="#1a9a3a" fill-opacity="0.35" stroke="#22c42a" stroke-width="1.1" opacity="0.9"/>
<circle cx="146.8" cy="192" r="2.5" fill="#1a9a3a" fill-opacity="0.35" stroke="#22c42a" stroke-width="1.1" opacity="0.9"/>
<circle cx="59.8" cy="290" r="2.5" fill="#1a9a3a" fill-opacity="0.35" stroke="#22c42a" stroke-width="1.1" opacity="0.9"/>
<circle cx="85.5" cy="290" r="2.5" fill="#1a9a3a" fill-opacity="0.35" stroke="#22c42a" stroke-width="1.1" opacity="0.9"/>
<circle cx="59.8" cy="326.5" r="2.5" fill="#1a9a3a" fill-opacity="0.35" stroke="#22c42a" stroke-width="1.1" opacity="0.9"/>
<circle cx="85.5" cy="326.5" r="2.5" fill="#1a9a3a" fill-opacity="0.35" stroke="#22c42a" stroke-width="1.1" opacity="0.9"/>
<circle cx="590.3" cy="427.3" r="3.3" fill="#a8ee10" opacity="0.9"/>
<circle cx="602.7" cy="427.3" r="3.3" fill="#a8ee10" opacity="0.9"/>
<circle cx="616.2" cy="427.3" r="3" fill="#1f8c2f" opacity="0.55"/>
<circle cx="711.3" cy="414.6" r="3.8" fill="#a8ee10" opacity="0.95"/>
<circle cx="723.8" cy="414.6" r="3.6" fill="none" stroke="#35c41e" stroke-width="1.5" opacity="0.9"/>
<circle cx="749.8" cy="414.6" r="3.6" fill="none" stroke="#4cc41e" stroke-width="1.5" opacity="0.9"/>
<circle cx="762.8" cy="414.4" r="3.4" fill="none" stroke="#35c41e" stroke-width="1.4" opacity="0.85"/>
<circle cx="590" cy="570.8" r="2.4" fill="#b03a1a" opacity="0.5"/>
<circle cx="603.5" cy="570.8" r="2.4" fill="#5a8a20" opacity="0.6"/>
<rect x="301" y="472.2" width="8" height="5.2" rx="2" fill="#6faa62" opacity="0.9"/>
<circle cx="310.5" cy="474.8" r="2.2" fill="#a8481c" opacity="0.7"/>
<circle cx="331.2" cy="204.3" r="2.4" fill="#3f8a3f" opacity="0.5"/>
<circle cx="299" cy="231" r="2.6" fill="#35b48a" opacity="0.6"/>
<circle cx="507.5" cy="306.5" r="2.4" fill="#2f8a3f" opacity="0.5"/>
<circle cx="482.4" cy="384" r="2.8" fill="#b8f010" opacity="0.8"/>
<circle cx="451" cy="410.5" r="2.2" fill="#a05a20" opacity="0.5"/>
<circle cx="330.2" cy="410.2" r="2.4" fill="#35b48a" opacity="0.5"/></g>
</g>
</svg>
</body></html>
